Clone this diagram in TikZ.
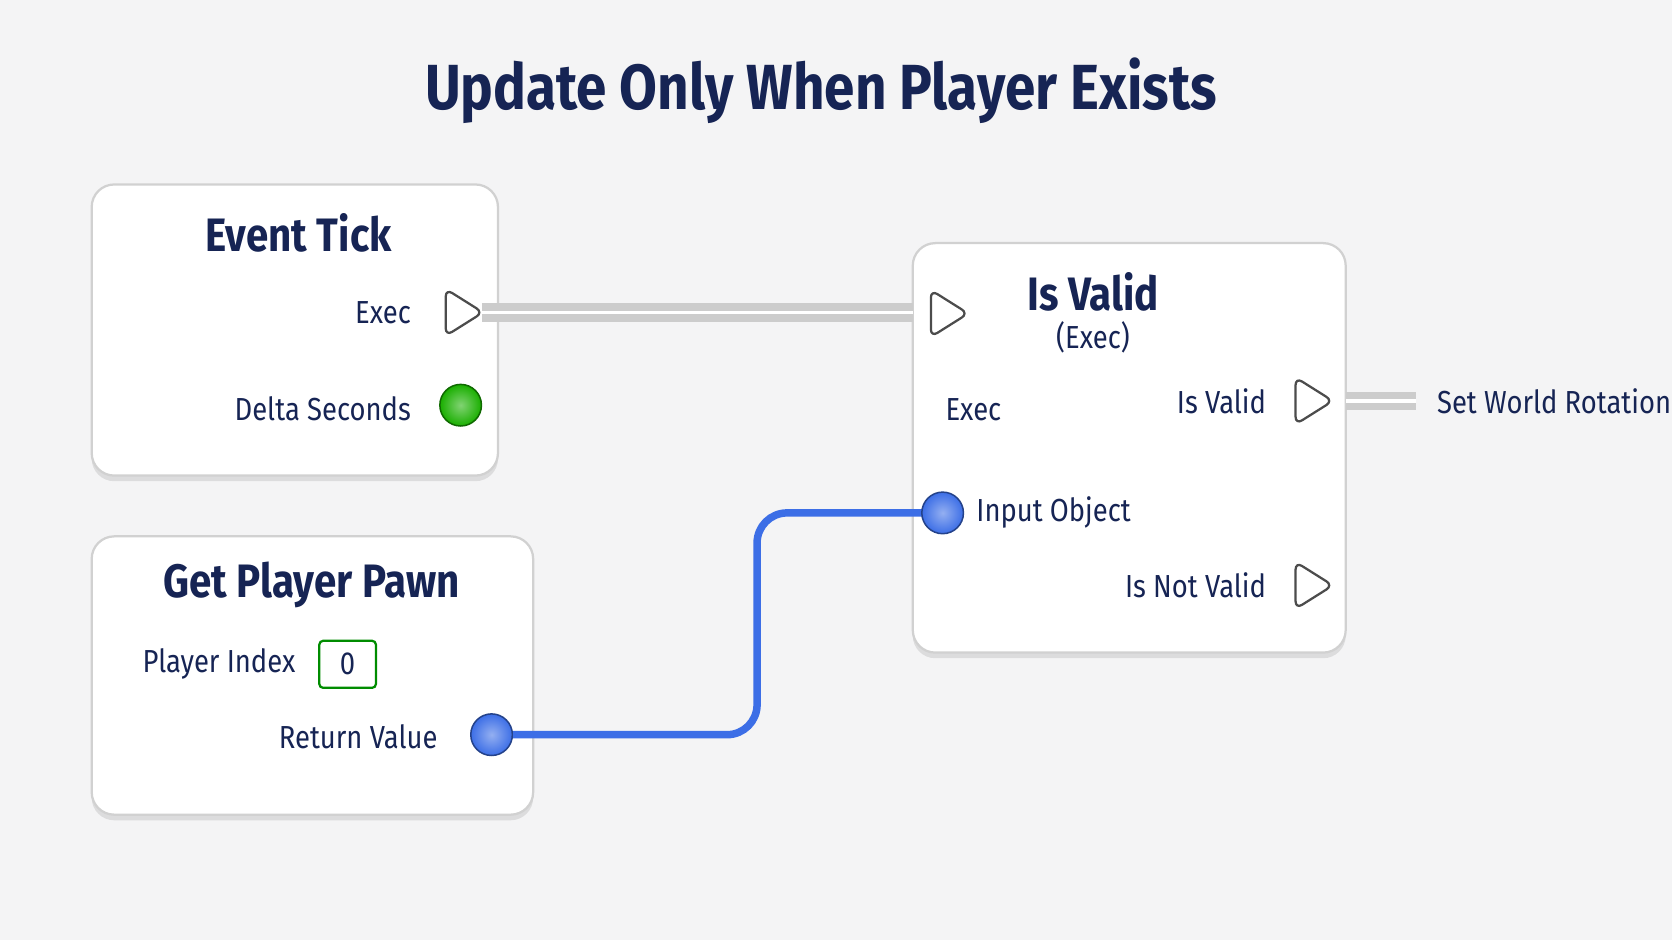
\documentclass[tikz,border=0pt]{standalone}
\usepackage{fontspec}
\setmainfont[FakeStretch=0.86]{Fira Sans}
\usepackage{tikz}
\usetikzlibrary{positioning,shadows,calc}
\definecolor{navy}{RGB}{22,36,84}
\definecolor{bg}{RGB}{244,244,245}
\definecolor{wire}{RGB}{60,110,230}
\tikzset{
  card/.style={draw=black!18, fill=white, rounded corners=6pt, line width=0.6pt,
    drop shadow={shadow xshift=0pt, shadow yshift=-1.5pt, opacity=0.2}},
  head/.style={text=navy, font=\bfseries\fontsize{12.5}{14}\selectfont},
  lbl/.style={text=navy, font=\fontsize{8.5}{10}\selectfont, inner sep=0pt},
  execwire/.style={draw=black!20, line width=2pt, double=white, double distance=1pt},
  datawire/.style={draw=wire, line width=2pt, rounded corners=8pt},
  pinfill/.style={draw=black!70, fill=white, line width=0.6pt, rounded corners=2pt},
  pinball/.style={circle, minimum size=0.39cm, inner sep=0pt, draw=#1!60!black, line width=0.4pt,
    inner color=#1!55, outer color=#1}
}
% exec pin: left edge centre at #1
\newcommand{\execpin}[1]{\draw[pinfill] ($(#1)+(0,-22)$) -- ($(#1)+(35,0)$) -- ($(#1)+(0,22)$) -- cycle;}
\begin{document}
\begin{tikzpicture}[x=0.01cm,y=-0.01cm]
\useasboundingbox[fill=bg] (0,0) rectangle (1568,882);

% Title
\node[text=navy, font=\bfseries\fontsize{17}{20}\selectfont] (title) at (770,85) {Update Only When Player Exists};

% ---------- Event Tick ----------
\draw[card] (86,173) rectangle (467,446);
\node[head] (tickhead) at (280,218) {Event Tick};
\node[lbl, anchor=east] (tickexec) at (386,293) {Exec};
\coordinate (tickpin) at (418,293);
\execpin{tickpin}
\coordinate (tickout) at (452,293);
\node[lbl, anchor=east] (delta) at (386,383) {Delta Seconds};
\node[pinball=green!65!black!90!yellow] (deltapin) at (432,380) {};

% ---------- Get Player Pawn ----------
\draw[card] (86,503) rectangle (500,764);
\node[head] (pawnhead) at (292,549) {Get Player Pawn};
\node[lbl, anchor=west] (pindex) at (133,623) {Player Index};
\node[draw=green!55!black, line width=0.6pt, fill=white, rounded corners=1pt, minimum width=0.53cm, minimum height=0.42cm, text=navy, font=\fontsize{8.5}{10}\selectfont] (pzero) at (326,623) {0};
\node[lbl, anchor=east] (retval) at (411,691) {Return Value};
\node[pinball=wire] (retpin) at (461,689) {};

% ---------- Is Valid ----------
\draw[card] (856,228) rectangle (1262,612);
\node[head] (validhead) at (1025,274) {Is Valid};
\node[lbl] (validsub) at (1025,316) {(Exec)};
\coordinate (validin) at (873,294);
\node[lbl, anchor=west] (validexec) at (886,384) {Exec};
\node[lbl, anchor=east] (isvalid) at (1188,376) {Is Valid};
\coordinate (validpin) at (1215,376);
\node[lbl, anchor=east] (notvalid) at (1188,549) {Is Not Valid};
\coordinate (notpin) at (1215,549);
\node[lbl, anchor=west] (inobj) at (915,481) {Input Object};

% ---------- Wires ----------
\draw[execwire] (tickout) -- (856,293);
\coordinate (rotend) at (1328,376);
\draw[execwire] ($(validpin)+(47,0)$) -- (rotend);
\node[lbl, anchor=west] (rotate) at (1347,375) {Set World Rotation\textasciicircum};
\draw[datawire] (retpin) -- (710,689) -- (710,481) -- (884,481);
\node[pinball=wire] (objpin) at (884,481) {};

\execpin{validin}
\execpin{validpin}
\execpin{notpin}
\end{tikzpicture}
\end{document}
